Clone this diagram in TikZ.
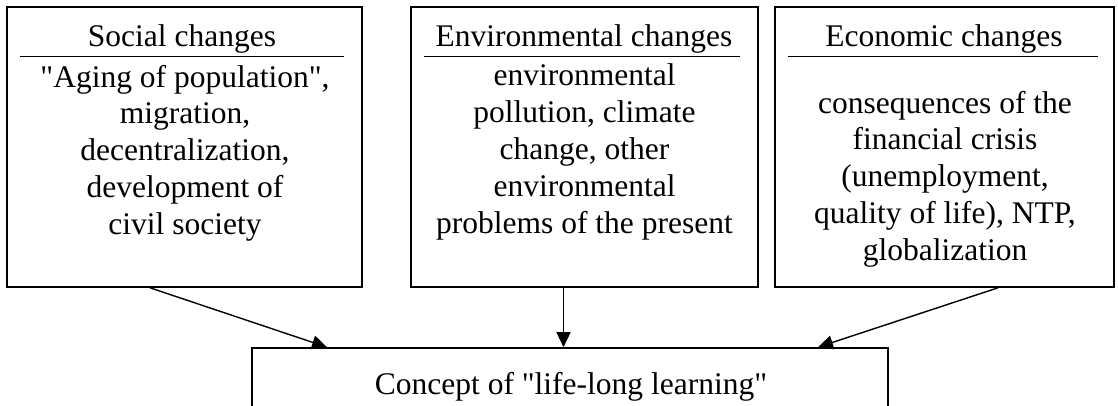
\documentclass[tikz,border=0pt]{standalone}
\usepackage{fontspec}
\setmainfont[Ligatures=TeXOff]{Liberation Serif}
\usetikzlibrary{arrows.meta}
\tikzset{
  box/.style={draw, line width=1.6pt, rectangle, inner sep=0pt},
  rulel/.style={line width=1pt},
  txt/.style={font=\fontsize{31.5}{36.8}\selectfont, align=center, inner sep=0pt},
  arr/.style={line width=1.4pt, -{Triangle[length=15pt,width=14pt]}}
}
\begin{document}
\begin{tikzpicture}[x=1pt,y=-1pt]
\useasboundingbox (0,0) rectangle (1118,406);
\clip (0,0) rectangle (1118,406);
\fill[white] (0,0) rectangle (1118,406);
% boxes
\node[box, minimum width=355pt, minimum height=280pt] (soc) at (184.5,147) {};
\node[box, minimum width=347pt, minimum height=280pt] (env) at (584.5,147) {};
\node[box, minimum width=339pt, minimum height=280pt] (eco) at (944.5,147) {};
\node[box, minimum width=636pt, minimum height=120pt] (concept) at (570,408) {};
% header rules
\draw[rulel] ([shift={(14pt,-50pt)}]soc.north west) -- ([shift={(-19pt,-50pt)}]soc.north east);
\draw[rulel] ([shift={(14pt,-50pt)}]env.north west) -- ([shift={(-19pt,-50pt)}]env.north east);
\draw[rulel] ([shift={(14pt,-50pt)}]eco.north west) -- ([shift={(-17pt,-50pt)}]eco.north east);
% headers
\node[txt, anchor=base] (sochead) at (182,46.7) {Social changes};
\node[txt, anchor=base] (envhead) at (584,46.7) {Environmental changes};
\node[txt, anchor=base] (ecohead) at (944,46.7) {Economic changes};
% bodies
\node[txt, anchor=north] (socbody) at (185,61.2) {\strut"Aging of population",\\migration,\\decentralization,\\development of\\civil society};
\node[txt, anchor=north] (envbody) at (584.5,59.9) {\strut environmental\\pollution, climate\\change, other\\environmental\\problems of the present};
\node[txt, anchor=north] (ecobody) at (945,87.2) {\strut consequences of the\\financial crisis\\(unemployment,\\quality of life), NTP,\\globalization};
\node[txt, anchor=base] (concepttext) at (571,394) {Concept of "life-long learning"};
% arrows
\draw[arr] ([xshift=-34.5pt]soc.south) -- ([xshift=-243pt]concept.north);
\draw[arr] ([xshift=-21pt]env.south) -- ([xshift=-6.5pt]concept.north);
\draw[arr] ([xshift=53.5pt]eco.south) -- ([xshift=248pt]concept.north);
\end{tikzpicture}
\end{document}
